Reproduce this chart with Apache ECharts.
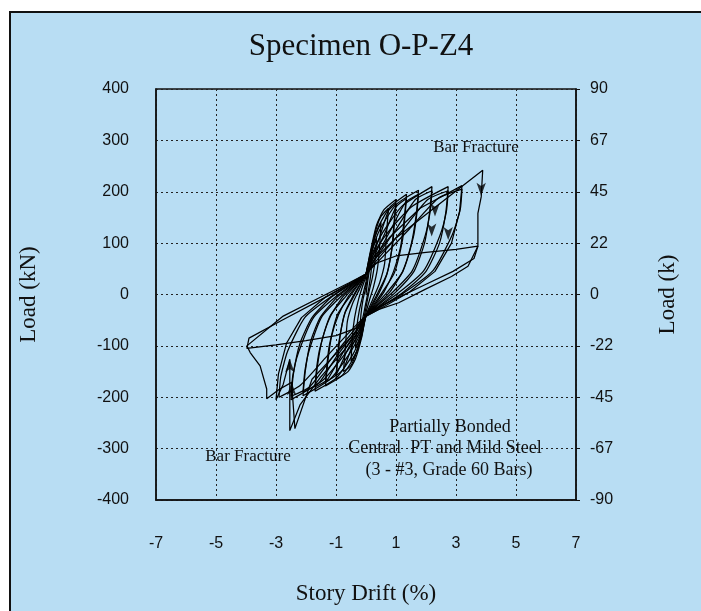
<!DOCTYPE html>
<html>
<head>
<meta charset="utf-8">
<script src="https://cdn.jsdelivr.net/npm/echarts@6/dist/echarts.min.js"></script>
<style>html,body{margin:0;padding:0;background:#fff}#c{width:701px;height:611px}</style>
</head>
<body>
<div id="c"></div>
<script>
// ---- data (drift %, load kN) ----
const leftTickLabels = ['-400','-300','-200','-100','0','100','200','300','400'];
const rightTickLabels = ['-90','-67','-45','-22','0','22','45','67','90'];

const c1 = [[0,0],[0.08,35],[0.2,75],[0.17,45],[0.1,15],[0,-15],[-0.08,-38],[-0.2,-70],[-0.17,-40],[-0.1,-10],[0,15]];
const c2 = [[0,15],[0.1,50],[0.22,88],[0.35,110],[0.31,70],[0.22,35],[0.1,5],[0,-25],[-0.1,-55],[-0.22,-85],[-0.35,-105],[-0.31,-65],[-0.22,-30],[-0.1,0],[0,25]];
const c3 = [[0,25],[0.12,62],[0.3,112],[0.5,140],[0.45,90],[0.38,50],[0.25,15],[0.12,-10],[0,-35],[-0.12,-70],[-0.3,-110],[-0.5,-130],[-0.45,-80],[-0.38,-45],[-0.25,-10],[-0.12,15],[0,35]];
const c4 = [[0,35],[0.15,80],[0.35,130],[0.5,152],[0.75,168],[0.68,115],[0.62,60],[0.45,22],[0.22,-10],[0,-40],[-0.15,-80],[-0.35,-118],[-0.5,-138],[-0.75,-150],[-0.68,-97],[-0.62,-52],[-0.45,-18],[-0.22,10],[0,38]];
const c5 = [[0,38],[0.15,85],[0.35,135],[0.6,165],[1.0,185],[0.93,135],[0.85,85],[0.7,40],[0.45,5],[0.2,-22],[0,-42],[-0.15,-85],[-0.35,-125],[-0.6,-150],[-1.0,-165],[-0.93,-118],[-0.85,-75],[-0.7,-35],[-0.45,-5],[-0.2,20],[0,40]];
const c5b = [[0,40],[0.2,72],[0.45,111],[0.75,163],[1.0,177],[0.94,137],[0.9,102],[0.7,41],[0.4,4],[0,-42],[-0.2,-72],[-0.45,-99],[-0.75,-145],[-1.0,-158],[-0.94,-118],[-0.9,-91],[-0.7,-36],[-0.4,-3],[0,40]];
const c6 = [[0,40],[0.15,82],[0.4,130],[0.8,170],[1.35,195],[1.27,145],[1.15,92],[0.92,45],[0.6,5],[0.27,-22],[0,-42],[-0.15,-82],[-0.4,-122],[-0.8,-158],[-1.35,-178],[-1.27,-130],[-1.15,-82],[-0.92,-40],[-0.6,-5],[-0.27,20],[0,40]];
const c6b = [[0,40],[0.25,72],[0.61,117],[1.01,171],[1.35,187],[1.29,147],[1.22,107],[0.95,43],[0.54,4],[0,-42],[-0.25,-72],[-0.61,-107],[-1.01,-157],[-1.35,-170],[-1.29,-130],[-1.22,-98],[-0.95,-39],[-0.54,-4],[0,40]];
const c7 = [[0,40],[0.17,80],[0.45,125],[1.0,175],[1.75,203],[1.67,153],[1.5,96],[1.22,45],[0.8,5],[0.35,-22],[0,-42],[-0.17,-80],[-0.45,-118],[-1.0,-163],[-1.7,-188],[-1.62,-140],[-1.46,-88],[-1.18,-42],[-0.78,-5],[-0.34,20],[0,40]];
const c7b = [[0,40],[0.3,70],[0.79,122],[1.31,179],[1.75,195],[1.69,155],[1.58,112],[1.23,45],[0.7,4],[0,-42],[-0.3,-70],[-0.77,-113],[-1.28,-165],[-1.7,-180],[-1.64,-140],[-1.53,-103],[-1.19,-41],[-0.68,-4],[0,40]];
const c8 = [[0,40],[0.2,78],[0.55,120],[1.2,172],[2.2,210],[2.12,160],[1.95,100],[1.6,45],[1.0,5],[0.45,-22],[0,-42],[-0.2,-78],[-0.55,-115],[-1.2,-165],[-2.1,-197],[-2.02,-148],[-1.85,-92],[-1.52,-44],[-0.96,-5],[-0.42,20],[0,40]];
const c8b = [[0,40],[0.3,68],[0.99,126],[1.65,185],[2.2,202],[2.14,162],[1.98,116],[1.54,46],[0.88,4],[0,-42],[-0.3,-68],[-0.95,-118],[-1.58,-173],[-2.1,-190],[-2.04,-150],[-1.89,-108],[-1.47,-43],[-0.84,-4],[0,40]];
const c9 = [[0,40],[0.22,75],[0.65,115],[1.5,170],[2.74,210],[2.66,160],[2.45,100],[2.0,45],[1.25,5],[0.55,-22],[0,-42],[-0.22,-75],[-0.65,-112],[-1.4,-165],[-2.5,-205],[-2.42,-155],[-2.2,-95],[-1.8,-45],[-1.15,-5],[-0.5,20],[0,40]];
const c9b = [[0,40],[0.35,66],[1.23,126],[2.06,185],[2.74,202],[2.68,162],[2.47,116],[1.92,46],[1.1,4],[0,-42],[-0.35,-66],[-1.13,-123],[-1.88,-180],[-2.5,-198],[-2.44,-158],[-2.25,-113],[-1.75,-45],[-1.0,-4],[0,40]];
const c10 = [[0,40],[0.25,72],[0.8,112],[1.8,168],[3.2,212],[3.12,162],[2.85,100],[2.3,45],[1.45,5],[0.65,-22],[0,-42],[-0.25,-72],[-0.75,-110],[-1.5,-160],[-2.2,-215],[-2.54,-265],[-2.54,-126],[-2.76,-175],[-3.0,-205],[-2.92,-155],[-2.65,-95],[-2.15,-45],[-1.35,-5],[-0.6,20],[0,40]];
const c10b = [[0,40],[0.4,64],[1.44,127],[2.4,187],[3.2,205],[3.14,165],[2.88,117],[2.24,47],[1.28,4],[0,-42],[-0.4,-64],[-1.3,-120],[-2.18,-176],[-2.9,-200],[-2.84,-160],[-2.61,-110],[-2.03,-44],[-1.16,-4],[0,40]];
const c11 = [[0,40],[0.3,70],[1.0,110],[2.2,165],[3.3,215],[3.89,242],[3.84,190],[3.73,158],[3.73,94],[3.4,55],[2.85,35],[1.97,10],[1.09,-16],[0.43,-29],[0,-42],[-0.3,-70],[-1.0,-115],[-1.8,-165],[-2.37,-261],[-2.48,-171],[-2.9,-185],[-3.31,-203],[-3.31,-184],[-3.53,-139],[-3.86,-113],[-3.97,-100],[-2.76,-42],[-1.44,-3],[-0.56,23],[0,40]];
const c12 = [[0,40],[0.3,60],[1.0,75],[2.0,82],[3.0,88],[3.73,94],[3.6,70],[2.9,45],[2.0,20],[1.0,-8],[0.4,-25],[0,-40],[-0.3,-65],[-1.0,-80],[-2.0,-90],[-3.0,-98],[-3.97,-105],[-3.9,-85],[-2.8,-50],[-1.5,-10],[-0.6,18],[0,35]];

// arrowheads on the curve: [drift, load, rotation deg]
const arrowPts = [[3.84,192,180],[2.3,152,180],[2.19,113,180],[2.74,106,180],[-2.54,-126,0],[-2.48,-171,0]];

const smoothCycles = [c1,c2,c3,c4,c5,c5b,c6,c6b,c7,c7b,c8,c8b,c9,c9b,c10b];
const sharpCycles = [c10,c11,c12];

const chart = echarts.init(document.getElementById('c'), null, {renderer:'canvas'});
const serif = '"Liberation Serif","DejaVu Serif",serif';
const sans = '"Liberation Sans",Arial,sans-serif';
const mk = (c, sm) => ({
  type:'line', data:c, xAxisIndex:0, yAxisIndex:0, showSymbol:false, symbol:'none', smooth:sm,
  lineStyle:{color:'#000', width:1.25}, silent:true, animation:false, z:3
});
const series = smoothCycles.map(c => mk(c, 0.2)).concat(sharpCycles.map(c => mk(c, false)));
series.push({
  type:'scatter', xAxisIndex:0, yAxisIndex:0, symbol:'arrow', symbolSize:[7,13],
  data: arrowPts.map(p => ({value:[p[0],p[1]], symbolRotate:p[2]})),
  itemStyle:{color:'#000'}, silent:true, animation:false, z:4
});
series.push({type:'line', data:[], yAxisIndex:1});

const txt = (x,y,t,size) => ({type:'text', x:x, y:y, z:5,
  style:{text:t, font:size+'px '+serif, fill:'#111', align:'center', verticalAlign:'middle'}});

chart.setOption({
  animation:false,
  backgroundColor:'#ffffff',
  graphic:[
    {type:'rect', z:-10, shape:{x:10, y:12, width:720, height:640}, style:{fill:'#b8ddf3', stroke:'#111', lineWidth:2}},
    txt(248,457,'Bar Fracture',17),
    txt(476,148,'Bar Fracture',17),
    txt(450,427,'Partially Bonded',18),
    txt(445,448,'Central  PT and Mild Steel',18),
    txt(449,470,'(3 - #3, Grade 60 Bars)',18)
  ],
  title:{text:'Specimen O-P-Z4', left:356, top:26, textAlign:'center',
    textStyle:{fontFamily:serif, fontSize:31, fontWeight:'normal', color:'#111'}},
  grid:{left:156, top:89, width:420, height:411, show:true, borderColor:'#111', borderWidth:1.5, backgroundColor:'transparent'},
  xAxis:[{
    type:'value', min:-7, max:7, interval:2, position:'bottom',
    name:'Story Drift (%)', nameLocation:'middle', nameGap:82,
    nameTextStyle:{fontFamily:serif, fontSize:23, color:'#111'},
    axisLine:{show:true, onZero:false, lineStyle:{color:'#111', width:1.5}},
    axisTick:{show:false},
    axisLabel:{fontFamily:sans, fontSize:16, color:'#111', margin:36},
    splitLine:{show:true, lineStyle:{color:'#222', type:[2,3], width:1}}
  }],
  yAxis:[{
    type:'value', min:-400, max:400, interval:100, position:'left',
    name:'Load (kN)', nameLocation:'middle', nameGap:116, nameRotate:90,
    nameTextStyle:{fontFamily:serif, fontSize:23, color:'#111'},
    axisLine:{show:true, onZero:false, lineStyle:{color:'#111', width:1.5}},
    axisTick:{show:false},
    axisLabel:{fontFamily:sans, fontSize:16, color:'#111', margin:27, formatter:(v,i)=>leftTickLabels[i]},
    splitLine:{show:true, lineStyle:{color:'#222', type:[2,3], width:1}}
  },{
    type:'value', min:-90, max:90, interval:22.5, position:'right',
    name:'Load (k)', nameLocation:'middle', nameGap:80, nameRotate:90,
    nameTextStyle:{fontFamily:serif, fontSize:23, color:'#111'},
    axisLine:{show:true, onZero:false, lineStyle:{color:'#111', width:1.5}},
    axisTick:{show:true, length:4, lineStyle:{color:'#111'}},
    axisLabel:{fontFamily:sans, fontSize:16, color:'#111', margin:14, formatter:(v,i)=>rightTickLabels[i]},
    splitLine:{show:false}
  }],
  series: series
});
</script>
</body>
</html>
